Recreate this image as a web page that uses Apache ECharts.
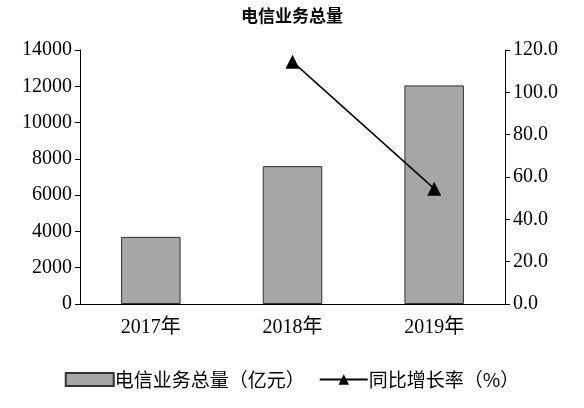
<!DOCTYPE html>
<html><head><meta charset="utf-8">
<script src="https://cdn.jsdelivr.net/npm/echarts@6/dist/echarts.min.js"></script>
<style>html,body{margin:0;background:#fff}#c{width:584px;height:408px}</style>
</head><body><div id="c"></div>
<script>
var years = ['2017年', '2018年', '2019年'];
var volume = [3700, 7600, 12050];
var growth = [null, 114.5, 54.5];

var font = '"Liberation Serif", "Noto Sans CJK SC", serif';
var chart = echarts.init(document.getElementById('c'));
chart.setOption({
  animation: false,
  textStyle: { fontFamily: font, color: '#000' },
  title: { text: '电信业务总量', left: 'center', top: 2,
    textStyle: { fontFamily: '"Noto Sans CJK SC"', fontSize: 17, fontWeight: 'bold', color: '#000' } },
  grid: { left: 80, right: 79, top: 50, bottom: 104 },
  legend: {
    bottom: 14, left: 'center', itemGap: 14, itemWidth: 48, itemHeight: 13,
    textStyle: { fontFamily: '"Noto Sans CJK SC"', fontSize: 19, color: '#000', padding: [0, 0, 0, -4] },
    data: [
      { name: '电信业务总量（亿元）', icon: 'rect' },
      { name: '同比增长率（%）' }
    ]
  },
  xAxis: {
    type: 'category', data: years,
    axisLine: { lineStyle: { color: '#000' } },
    axisTick: { show: false },
    axisLabel: { color: '#000', fontSize: 20, margin: 14, fontFamily: font }
  },
  yAxis: [
    { type: 'value', min: 0, max: 14000, interval: 2000,
      axisLine: { show: true, lineStyle: { color: '#000' } },
      axisTick: { show: true, lineStyle: { color: '#000' } },
      splitLine: { show: false },
      axisLabel: { color: '#000', fontSize: 20, fontFamily: font,
        formatter: function (v) { return String(v); } } },
    { type: 'value', min: 0, max: 120, interval: 20,
      axisLine: { show: true, lineStyle: { color: '#000' } },
      axisTick: { show: true, lineStyle: { color: '#000' } },
      splitLine: { show: false },
      axisLabel: { color: '#000', fontSize: 20, fontFamily: font,
        formatter: function (v) { return v.toFixed(1); } } }
  ],
  series: [
    { name: '电信业务总量（亿元）', type: 'bar', data: volume, barWidth: '42%',
      itemStyle: { color: '#a6a6a6', borderColor: '#333', borderWidth: 1 } },
    { name: '同比增长率（%）', type: 'line', yAxisIndex: 1, data: growth,
      symbol: 'triangle', symbolSize: 14,
      lineStyle: { color: '#000', width: 1.5 },
      itemStyle: { color: '#000' } }
  ]
});
</script></body></html>
